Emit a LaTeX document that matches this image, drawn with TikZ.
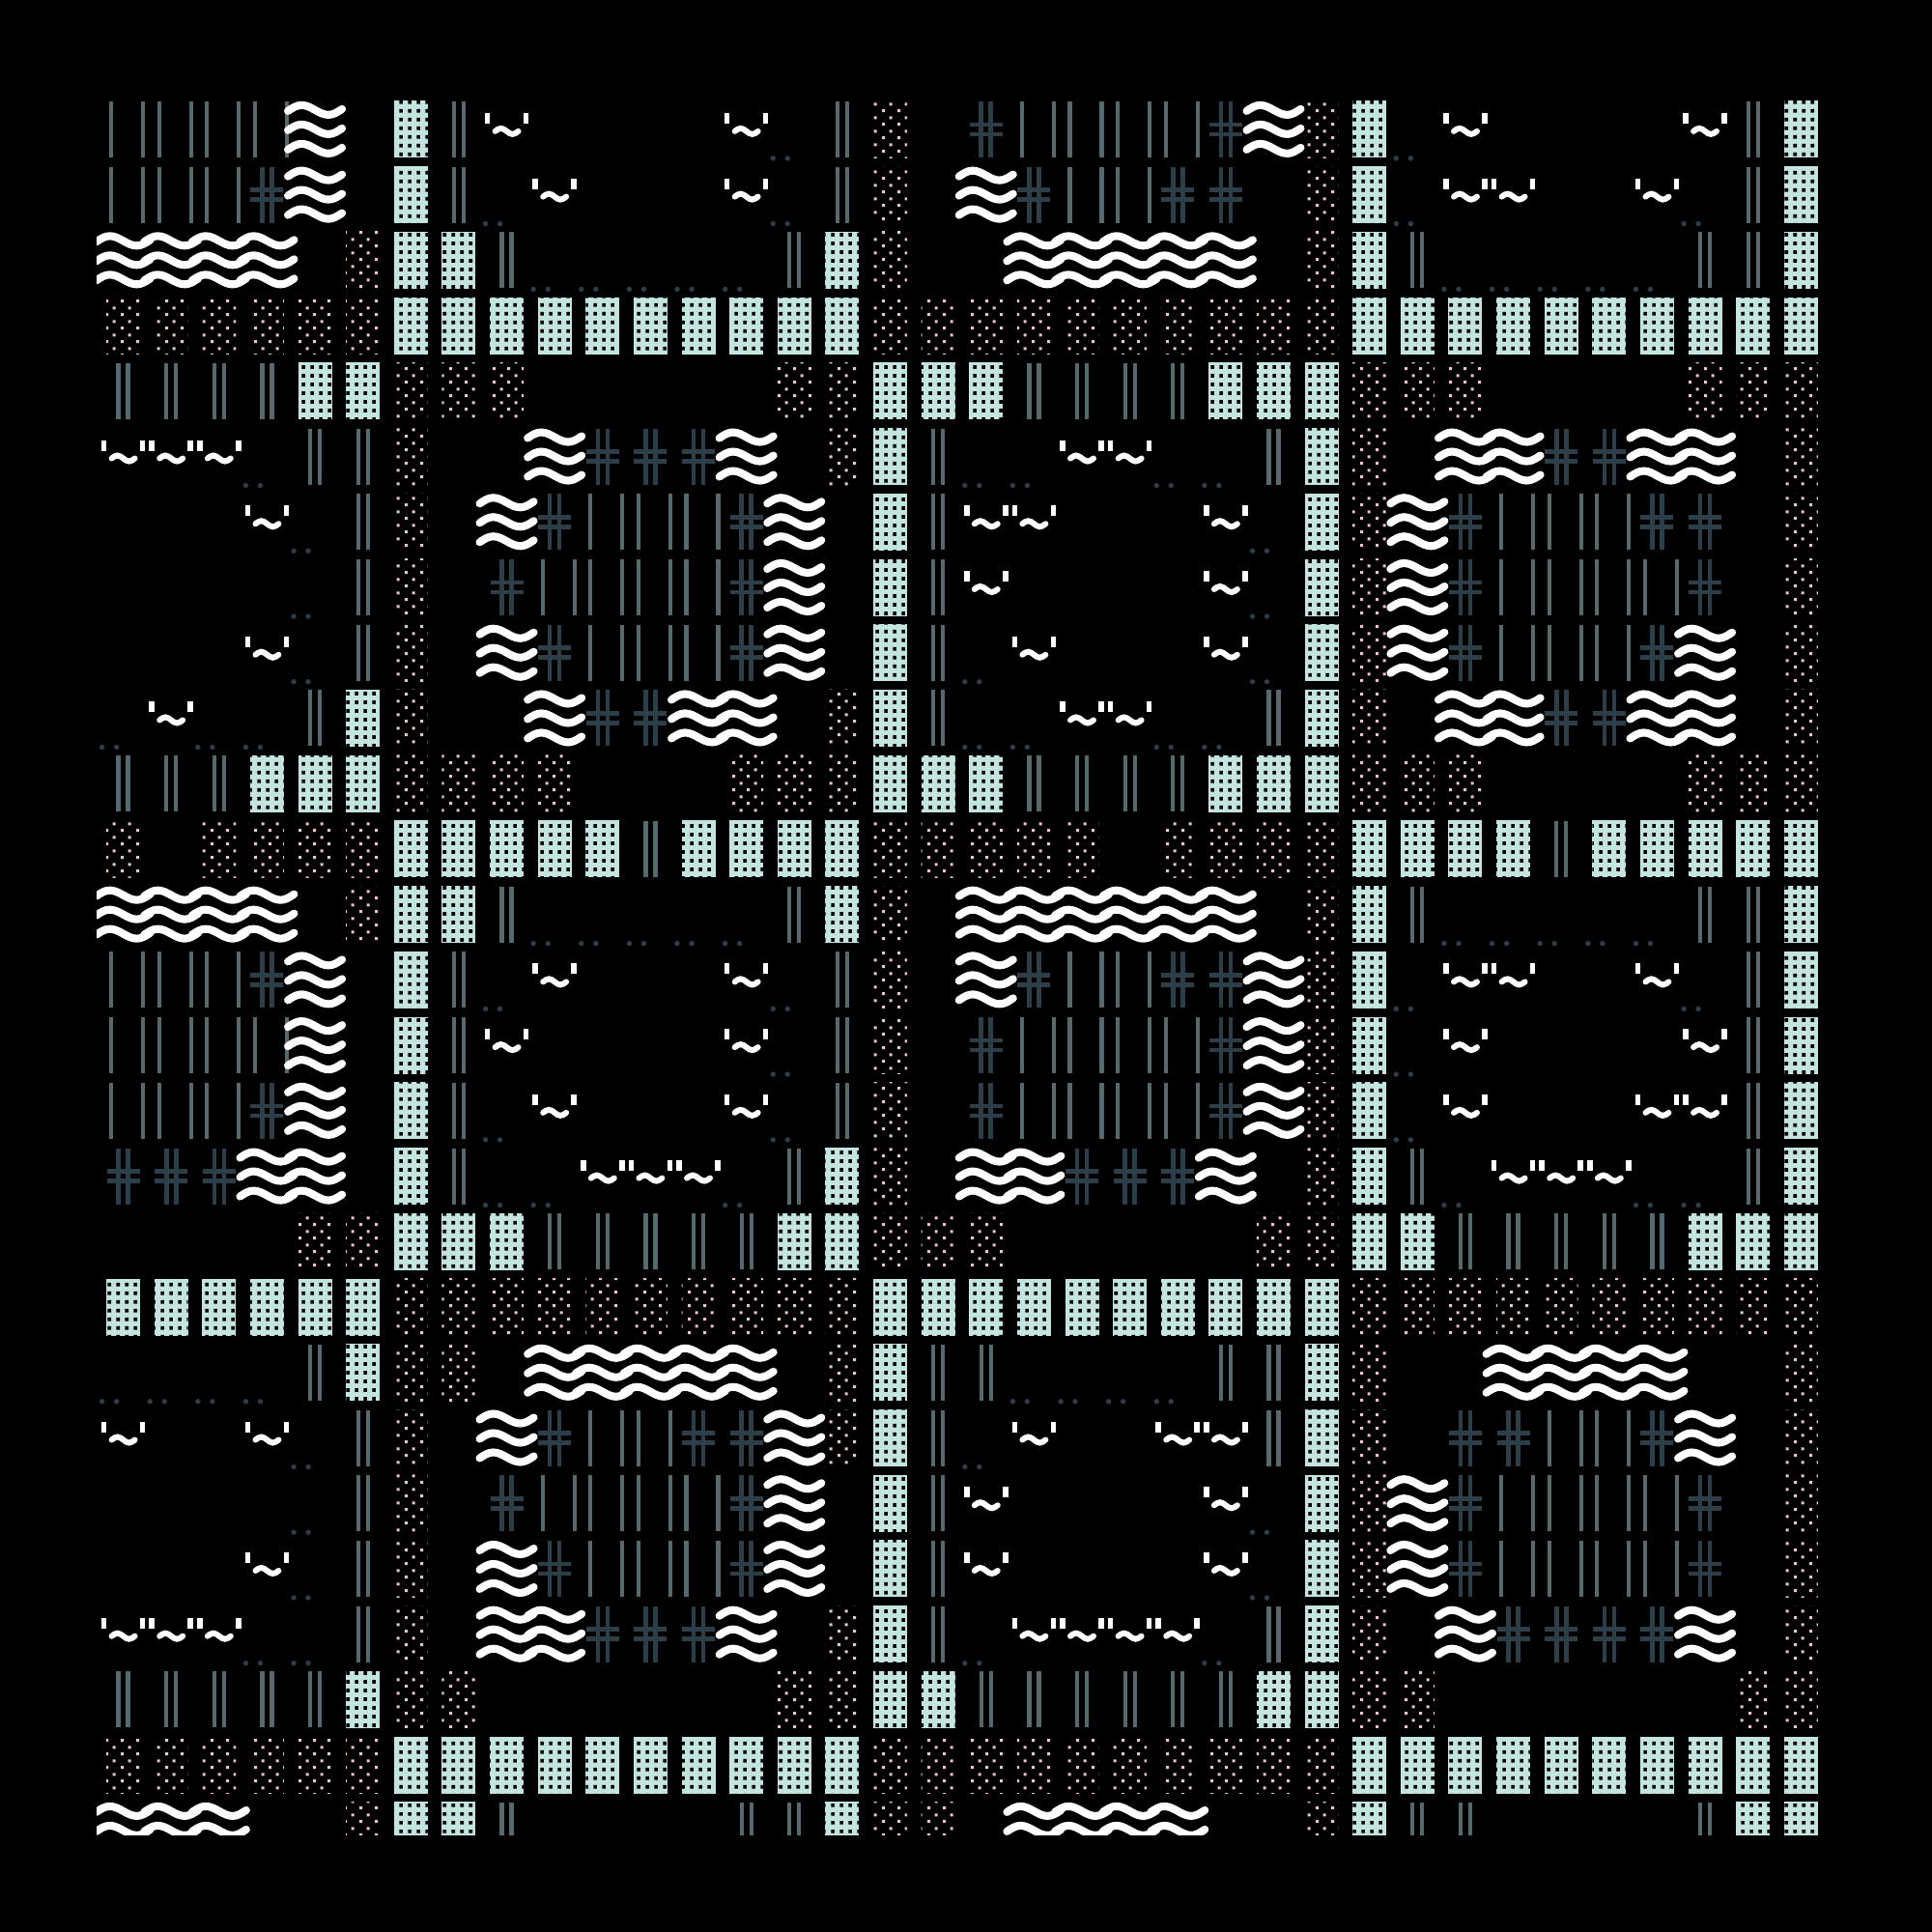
\documentclass[tikz,border=0pt]{standalone}
\usetikzlibrary{patterns}

\definecolor{mint}{RGB}{196,228,224}
\definecolor{rose}{RGB}{236,196,206}
\definecolor{slategrey}{RGB}{86,106,110}
\definecolor{darkslate}{RGB}{44,62,72}

\pgfdeclarepatternformonly{holegrid}{\pgfpoint{0pt}{0pt}}{\pgfpoint{2.6pt}{2.6pt}}{\pgfpoint{2.6pt}{2.6pt}}{%
  \pgfpathrectangle{\pgfpoint{0.7pt}{0.7pt}}{\pgfpoint{1.15pt}{1.15pt}}\pgfusepath{fill}}
\pgfdeclarepatternformonly{rosedots}{\pgfpoint{0pt}{0pt}}{\pgfpoint{4.4pt}{4pt}}{\pgfpoint{4.4pt}{4pt}}{%
  \pgfpathrectangle{\pgfpoint{0.3pt}{0.3pt}}{\pgfpoint{0.9pt}{0.9pt}}%
  \pgfpathrectangle{\pgfpoint{2.5pt}{2.3pt}}{\pgfpoint{0.9pt}{0.9pt}}\pgfusepath{fill}}

\tikzset{
  block/.style={fill=mint},
  holes/.style={pattern=holegrid,pattern color=black},
  speckle/.style={pattern=rosedots,pattern color=rose},
  bar/.style={draw=slategrey,line width=1.2pt},
  hashline/.style={draw=darkslate,line width=1.3pt},
  wave/.style={draw=white,line width=2.3pt,line cap=round},
  tilde/.style={draw=white,line width=1.7pt,line cap=round},
  tick/.style={draw=white,line width=1.6pt},
  pip/.style={fill=darkslate}
}

\newcount\ci
\newcount\rj
\newcommand\gridrow[2]{\rj=#1 \ci=0 \walkcells#2\relax}
\def\walkcells#1{\ifx#1\relax\else\putglyph{#1}\advance\ci by 1 \expandafter\walkcells\fi}
\newcommand\putglyph[1]{%
  \pgfmathsetmacro\cx{1.276+0.4962*\the\ci}%
  \pgfmathsetmacro\cy{20-1.339-0.6773*\the\rj}%
  \csname glyph#1\endcsname}

% glyphs of one cell
\expandafter\def\csname glyph-\endcsname{}
\expandafter\def\csname glyphB\endcsname{%
  \fill[block] (\cx-0.175,\cy-0.295) rectangle (\cx+0.175,\cy+0.295);
  \fill[holes] (\cx-0.175,\cy-0.295) rectangle (\cx+0.175,\cy+0.295);}
\expandafter\def\csname glyphd\endcsname{%
  \fill[speckle] (\cx-0.175,\cy-0.295) rectangle (\cx+0.175,\cy+0.295);}
\expandafter\def\csname glyph=\endcsname{%
  \draw[bar] (\cx-0.05,\cy-0.29) -- (\cx-0.05,\cy+0.29);
  \draw[bar] (\cx+0.05,\cy-0.29) -- (\cx+0.05,\cy+0.29);}
\expandafter\def\csname glyphb\endcsname{%
  \draw[bar] (\cx-0.125,\cy-0.29) -- (\cx-0.125,\cy+0.29);
  \draw[bar] (\cx+0.205,\cy-0.29) -- (\cx+0.205,\cy+0.29);}
\expandafter\def\csname glyphh\endcsname{%
  \draw[hashline] (\cx-0.05,\cy-0.29) -- (\cx-0.05,\cy+0.29);
  \draw[hashline] (\cx+0.05,\cy-0.29) -- (\cx+0.05,\cy+0.29);
  \draw[hashline] (\cx-0.17,\cy+0.05) -- (\cx+0.17,\cy+0.05);
  \draw[hashline] (\cx-0.17,\cy-0.05) -- (\cx+0.17,\cy-0.05);}
\expandafter\def\csname glyphW\endcsname{%
  \foreach \dy in {0.2,0,-0.2}
    \draw[wave] (\cx-0.28,\cy+\dy-0.01) sin (\cx-0.14,\cy+\dy+0.05)
      cos (\cx,\cy+\dy) sin (\cx+0.14,\cy+\dy-0.05) cos (\cx+0.28,\cy+\dy+0.01);}
\expandafter\def\csname glyphT\endcsname{%
  \draw[tick] (\cx-0.2,\cy+0.17) -- (\cx-0.2,\cy+0.06);
  \draw[tick] (\cx+0.2,\cy+0.17) -- (\cx+0.2,\cy+0.06);
  \draw[tilde] (\cx-0.12,\cy-0.02) sin (\cx-0.06,\cy+0.01) cos (\cx,\cy-0.02)
    sin (\cx+0.06,\cy-0.05) cos (\cx+0.12,\cy-0.02);}
\expandafter\def\csname glyph.\endcsname{%
  \fill[pip] (\cx-0.22,\cy-0.3) circle (0.027);
  \fill[pip] (\cx-0.07,\cy-0.3) circle (0.027);}

\begin{document}
\begin{tikzpicture}
\fill[black] (0,0) rectangle (20,20);
\useasboundingbox (0,0) rectangle (20,20);
\begin{scope}
\clip (1,1) rectangle (19,19);
\gridrow{0}{bbbbW-B=T----T.=d-hbbbbhWdB.T----T=B}
\gridrow{1}{bbbhW-B=.T---T.=d-Whbbhh-dB.TT--T.=B}
\gridrow{2}{WWWW-dBB=.....=Bd--WWWWW-dB=.....==B}
\gridrow{3}{ddddddBBBBBBBBBBddddddddddBBBBBBBBBB}
\gridrow{4}{====BBddd-----ddBBB====BBBddd----ddd}
\gridrow{5}{TTT.==d--WhhhW-dB=..TT..=Bd-WWhhWW-d}
\gridrow{6}{---T.=d-WhbbbhW-B=TT---T.BdWhbbbhh-d}
\gridrow{7}{----.=d-hbbbbhW-B=T----T.BdWhbbbbh-d}
\gridrow{8}{---T.=d-WhbbbhW-B=.T---T.BdWhbbbhW-d}
\gridrow{9}{.T..=Bd--WhhWW-dB=..TT..=Bd-WWhhWW-d}
\gridrow{10}{===BBBdddd---dddBBB====BBBddd----ddd}
\gridrow{11}{d-ddddBBBBB=BBBBddddd-ddddBBBB=BBBBB}
\gridrow{12}{WWWW-dBB=.....=Bd-WWWWWW-dB=.....==B}
\gridrow{13}{bbbhW-B=.T---T.=d-WhbbhhWdB.TT--T.=B}
\gridrow{14}{bbbbW-B=T----T.=d-hbbbbhWdB.T----T=B}
\gridrow{15}{bbbhW-B=.T---T.=d-hbbbbhWdB.T---TT=B}
\gridrow{16}{hhhWW-B=..TTT.=Bd-WWhhhW-dB=.TTT..=B}
\gridrow{17}{----ddBBB=====BBddd-----ddBB=====BBB}
\gridrow{18}{BBBBBBddddddddddBBBBBBBBBBdddddddddd}
\gridrow{19}{....=Bdd-WWWWW-dB==....==Bd--WWWW--d}
\gridrow{20}{T--T.=d-WhbbhhWdB=.T--TT=Bd-hhbbhW-d}
\gridrow{21}{----.=d-hbbbbhW-B=T----T.BdWhbbbbh-d}
\gridrow{22}{---T.=d-WhbbbhW-B=T----T.BdWhbbbbh-d}
\gridrow{23}{TTT..=d-WWhhhW-dB=.TTTT.=Bd-WhhhhW-d}
\gridrow{24}{=====Bdd------ddBB======BBdd------dd}
\gridrow{25}{ddddddBBBBBBBBBBddddddddddBBBBBBBBBB}
\gridrow{26}{WWW--dBB=----==Bdd-WWWW--dB==----=BB}
\end{scope}
\end{tikzpicture}
\end{document}
